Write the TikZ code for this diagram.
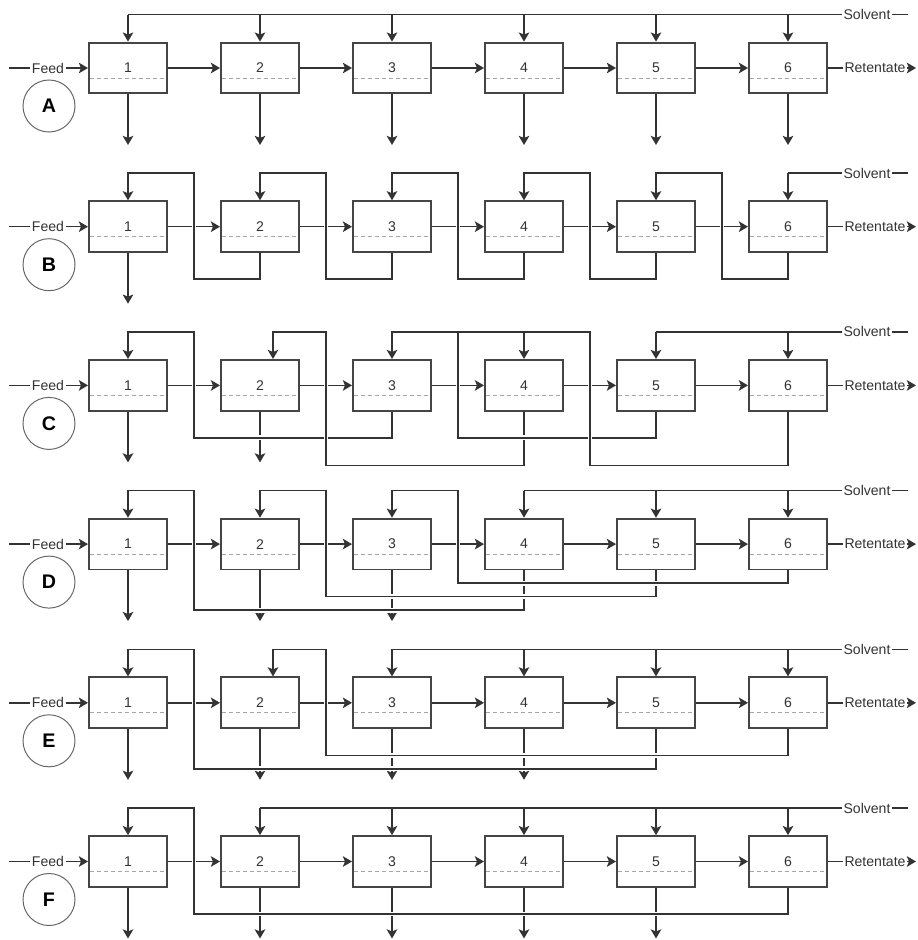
\documentclass[tikz,border=0pt]{standalone}
\usepackage{fontspec}
\setmainfont{Liberation Sans}
\usepackage{xcolor}
\usetikzlibrary{calc, arrows.meta, positioning}
\pgfdeclarelayer{fundo}
\pgfsetlayers{fundo,main}

\begin{document}
\begin{tikzpicture}[x=0.025cm, y=-0.025cm,
  modulo/.style={draw=borda, line width=1.4pt, fill=white, minimum width=1.95cm, minimum height=1.27cm, inner sep=0pt, text=texto, font=\fontsize{10}{12}\selectfont},
  linha/.style={draw=corlinha, line width=1.1pt},
  seta/.style={linha, -{Stealth[length=6.5pt, width=7.5pt, inset=1.5pt]}},
  laco/.style={seta, preaction={draw=white, line width=3.5pt, -}},
  tracejado/.style={draw=gray!70, line width=0.6pt, dash pattern=on 3pt off 2pt},
  rotulo/.style={inner sep=1pt, text=texto, font=\fontsize{10}{12}\selectfont},
  circulo/.style={circle, draw=gray!80!black, line width=0.7pt, minimum size=1.3cm, inner sep=0pt, text=black, font=\fontsize{14}{16}\selectfont\bfseries}]
% --- CASCATA DE 6 MODULOS, ESQUEMAS A A F ---
\definecolor{borda}{HTML}{454545}
\definecolor{corlinha}{HTML}{333333}
\definecolor{texto}{HTML}{333333}
\useasboundingbox (0,0) rectangle (918,940);

% LAYER 1: Modulos, rotulos e pontos auxiliares
\foreach \lt [count=\r from 0] in {A,B,C,D,E,F} {
  \pgfmathsetmacro\yc{68+158.7*\r}
  \foreach \i in {1,...,6} {
    \node[modulo] (\lt\i) at ({128+132*(\i-1)},\yc) {\i};
    \draw[tracejado] ($(\lt\i.west)+(1.5,10)$) -- ($(\lt\i.east)+(-1.5,10)$);
  }
  \foreach \i in {1,...,5}
    \coordinate (\lt m\i) at ({194+132*(\i-1)},\yc);
  \coordinate (\lt topo) at (0,\yc-53.5);
  \coordinate (\lt n1) at (0,\yc+39);
  \coordinate (\lt n2) at (0,\yc+52.5);
  \coordinate (\lt n3) at (0,\yc+66);
  \coordinate (\lt n4) at (0,\yc+80);
  \coordinate (\lt saida) at (0,\yc+77);
  \coordinate (\lt in) at (9,\yc);
  \coordinate (\lt fim) at (916,\yc);
  \coordinate (\lt sfim) at (908,\yc-53.5);
  \node[rotulo] (\lt feed) at (48,\yc) {Feed};
  \node[rotulo] (\lt ret) at (875,\yc) {Retentate};
  \node[rotulo] (\lt solv) at (867,\yc-53.5) {Solvent};
  \node[circulo] (\lt circ) at (49,\yc+38) {\lt};
}

\begin{pgfonlayer}{fundo}
% LAYER 2: Alimentacao, retentado e solvente
\foreach \lt in {A,B,C,D,E,F} {
  \draw[linha] (\lt in) -- (\lt feed.west);
  \draw[seta] (\lt feed.east) -- (\lt1.west);
  \foreach \i [count=\j from 2] in {1,...,5}
    \draw[seta] (\lt\i.east) -- (\lt\j.west);
  \draw[linha] (\lt6.east) -- (\lt ret.west);
  \draw[seta] (\lt ret.east) -- (\lt fim);
  \draw[linha] (\lt sfim) -- (\lt solv.east);
}
\foreach \lt/\p/\lista in {A/1/{1,2,3,4,5,6}, B/6/{6}, C/5/{5,6}, D/4/{4,5,6}, E/3/{3,4,5,6}, F/2/{2,3,4,5,6}} {
  \draw[linha] (\lt solv.west) -- (\lt\p.north |- \lt topo);
  \foreach \i in \lista
    \draw[seta] (\lt\i.north |- \lt topo) -- (\lt\i.north);
}

% LAYER 3: Permeado para fora
\foreach \lt/\lista in {A/{1,2,3,4,5,6}, B/{1}, C/{1,2}, D/{1,2,3}, E/{1,2,3,4}, F/{1,2,3,4,5}}
  \foreach \i in \lista
    \draw[seta] (\lt\i.south) -- (\lt\i.south |- \lt saida);

% LAYER 4: Reciclos de permeado
\foreach \i [count=\j from 2] in {1,...,5}
  \draw[laco] (B\j.south) |- (Bm\i |- Bn2) -- (Bm\i |- Btopo) -| (B\i.north);

\draw[laco] (C3.south) |- (Cm1 |- Cn2) -- (Cm1 |- Ctopo) -| (C1.north);
\draw[laco] (C4.south) |- (Cm2 |- Cn4) -- (Cm2 |- Ctopo) -| ($(C2.north)+(13,0)$);
\draw[laco] (C5.south) |- (Cm3 |- Cn2) -- (Cm3 |- Ctopo) -| (C3.north);
\draw[laco] (C6.south) |- (Cm4 |- Cn4) -- (Cm4 |- Ctopo) -| (C4.north);
\draw[linha] (Cm3 |- Ctopo) -- (C4.north |- Ctopo);

\draw[laco] (D4.south) |- (Dm1 |- Dn3) -- (Dm1 |- Dtopo) -| (D1.north);
\draw[laco] (D5.south) |- (Dm2 |- Dn2) -- (Dm2 |- Dtopo) -| (D2.north);
\draw[laco] (D6.south) |- (Dm3 |- Dn1) -- (Dm3 |- Dtopo) -| (D3.north);

\draw[laco] (E5.south) |- (Em1 |- En3) -- (Em1 |- Etopo) -| (E1.north);
\draw[laco] (E6.south) |- (Em2 |- En2) -- (Em2 |- Etopo) -| ($(E2.north)+(13,0)$);

\draw[laco] (F6.south) |- (Fm1 |- Fn2) -- (Fm1 |- Ftopo) -| (F1.north);
\end{pgfonlayer}
\end{tikzpicture}
\end{document}
